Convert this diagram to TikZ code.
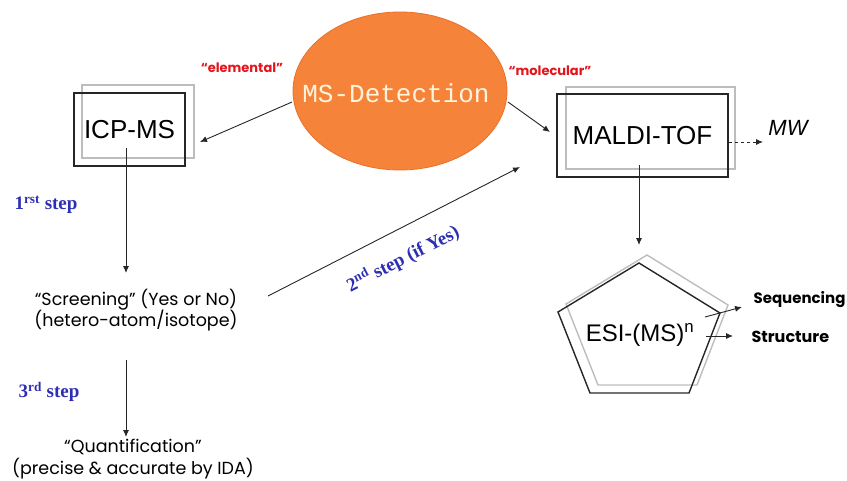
\documentclass[tikz,border=0pt]{standalone}
\usepackage{fontspec}
\setmainfont{Liberation Sans}
\newfontfamily\monof{Liberation Mono}
\newfontfamily\comic{Poppins}
\newfontfamily\stepf{Liberation Serif}
\usetikzlibrary{shapes.geometric,arrows.meta}
\definecolor{orng}{HTML}{F5843A}
\definecolor{orngd}{HTML}{E8702A}
\definecolor{cream}{HTML}{FFF3DC}
\definecolor{stepblue}{HTML}{2E2EB4}
\definecolor{redlab}{HTML}{E3141C}
\definecolor{shadowgray}{HTML}{BDBDBD}
\tikzset{
  frontbox/.style={draw=black!85, line width=1.4pt, minimum width=#1, inner sep=0pt, font=\fontsize{26}{30}\selectfont},
  backbox/.style={draw=shadowgray, line width=1.4pt, minimum width=#1, inner sep=0pt},
  arr/.style={-{Latex[length=7pt,width=6pt]}, line width=0.9pt, black!85},
  steplab/.style={text=stepblue, font=\stepf\bfseries\fontsize{19}{22}\selectfont},
  redlabel/.style={text=redlab, font=\comic\bfseries\fontsize{13}{15}\selectfont},
  comictext/.style={font=\comic\fontsize{17.5}{21.5}\selectfont, align=center},
  comicbold/.style={font=\comic\bfseries\fontsize{15}{18}\selectfont, anchor=west}
}
\begin{document}
\begin{tikzpicture}[x=1pt,y=-1pt]
\useasboundingbox (0,0) rectangle (847,480);
% MS detection ellipse
\node[ellipse, fill=orng, draw=orngd, line width=0.8pt, minimum width=214pt, minimum height=158pt, inner sep=0pt] (ms) at (400,91) {};
\node[text=cream, font=\monof\fontsize{26}{30}\selectfont] (mstext) at (396,93) {MS-Detection};
\node[redlabel] (elem) at (242,68) {“elemental”};
\node[redlabel] (mole) at (550,71) {“molecular”};
% ICP-MS boxes
\node[backbox=112pt, minimum height=73pt] (icpb) at (138,121.5) {};
\node[frontbox=111pt, minimum height=73pt] (icp) at (129.5,129.5) {ICP-MS};
% MALDI boxes
\node[backbox=169pt, minimum height=82pt] (maldib) at (650.5,128) {};
\node[frontbox=171pt, minimum height=83pt] (maldi) at (642.5,135.5) {MALDI-TOF};
\node[font=\itshape\fontsize{22}{26}\selectfont] (mw) at (788,128) {MW};
% pentagon
\coordinate (pt) at (639,263);
\coordinate (pr) at (720,313);
\coordinate (pbr) at (689,393);
\coordinate (pbl) at (590,393);
\coordinate (pl) at (558,312);
\draw[shadowgray, line width=1.4pt] ([shift={(8,-8)}]pt) -- ([shift={(8,-8)}]pr) -- ([shift={(8,-8)}]pbr) -- ([shift={(8,-8)}]pbl) -- ([shift={(8,-8)}]pl) -- cycle;
\draw[black!85, line width=1.4pt] (pt) -- (pr) -- (pbr) -- (pbl) -- (pl) -- cycle;
\node[font=\fontsize{24}{28}\selectfont] (esi) at (640,335) {ESI-(MS)\textsuperscript{n}};
\coordinate (seqs) at (705,317);
\coordinate (strs) at (706,336);
\node[comicbold] (seq) at (750,300) {Sequencing};
\node[comicbold, font=\comic\bfseries\fontsize{16}{18}\selectfont] (str) at (748,337) {Structure};
% left column
\node[comictext] (scr) at (136,310) {“Screening” (Yes or No)\\(hetero-atom/isotope)};
\node[comictext] (quant) at (133,459) {“Quantification”\\(precise \& accurate by IDA)};
\node[steplab] (s1) at (46,205) {1\textsuperscript{rst} step};
\node[steplab] (s3) at (49,392) {3\textsuperscript{rd} step};
\node[steplab, rotate=27] (s2) at (403,259) {2\textsuperscript{nd} step (if Yes)};
% connectors
\coordinate (msl) at (292,102);
\coordinate (msr) at (508,102);
\coordinate (icpin) at (200,142);
\coordinate (maldiin) at (550,132);
\draw[arr] (msl) -- (icpin);
\draw[arr] (msr) -- (maldiin);
\coordinate (icpout) at (126,148);
\coordinate (scrin) at (126,273);
\draw[arr] (icpout) -- (scrin);
\coordinate (scrout) at (126,360);
\coordinate (quantin) at (126,437);
\draw[arr] (scrout) -- (quantin);
\coordinate (scrr) at (268,296);
\coordinate (maldil) at (520,167);
\draw[arr] (scrr) -- (maldil);
\coordinate (maldiout) at (639,165);
\coordinate (penttop) at (639,245);
\draw[arr] (maldiout) -- (penttop);
\coordinate (maldir) at (729,142);
\coordinate (mwin) at (763,142);
\draw[arr, dashed] (maldir) -- (mwin);
\coordinate (seqe) at (742,307);
\coordinate (stre) at (733,336);
\draw[arr] (seqs) -- (seqe);
\draw[arr] (strs) -- (stre);
\end{tikzpicture}
\end{document}
